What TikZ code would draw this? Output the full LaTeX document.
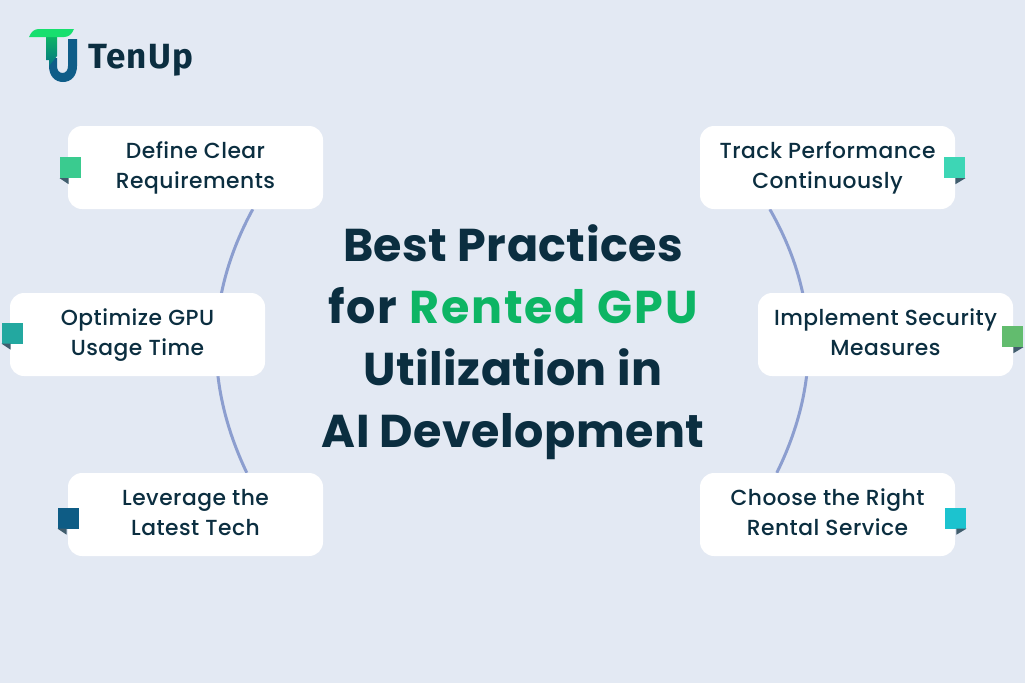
\documentclass[tikz,border=0pt]{standalone}
\usepackage{fontspec}
\setmainfont{Poppins}
\newfontfamily\titlefont[LetterSpace=1,UprightFont=* Bold]{Poppins}
\newfontfamily\titlewide[LetterSpace=4,UprightFont=* Bold]{Poppins}
\newfontfamily\boxfont[LetterSpace=2.2,UprightFont=* Medium]{Poppins}
\newfontfamily\logofont[LetterSpace=3.5,UprightFont=* Bold]{Fira Sans}
\usetikzlibrary{backgrounds}
\definecolor{bgc}{HTML}{E3E9F3}
\definecolor{ink}{HTML}{0B2E40}
\definecolor{arcc}{HTML}{8C9ECF}
\definecolor{titlegreen}{HTML}{0DB564}
\tikzset{
  cardbox/.style={fill=white,rounded corners=14pt,minimum width=255pt,minimum height=83pt,inner sep=0pt,align=center,text=ink,font=\boxfont\fontsize{21.8}{29.5}\selectfont},
  arcline/.style={draw=arcc,line width=3pt},
  flagsq/.style={minimum size=21pt,inner sep=0pt},
  foldc/.style={fill=ink!75!bgc}
}
\begin{document}
\begin{tikzpicture}[x=1pt,y=-1pt]
\begin{scope}[on background layer]
\fill[bgc] (0,0) rectangle (1025,683);
\end{scope}
\useasboundingbox (0,0) rectangle (1025,683);
% cards
\node[cardbox] (define) at (195.5,167.5) {\strut Define Clear\\\strut Requirements};
\node[cardbox] (optimize) at (137.5,334.5) {\strut Optimize GPU\\\strut Usage Time};
\node[cardbox] (leverage) at (195.5,514.5) {\strut Leverage the\\\strut Latest Tech};
\node[cardbox] (track) at (827.5,167.5) {\strut Track Performance\\\strut Continuously};
\node[cardbox] (implement) at (885.5,334.5) {\strut Implement Security\\\strut Measures};
\node[cardbox] (choose) at (827.5,514.5) {\strut Choose the Right\\\strut Rental Service};
% arcs
\begin{scope}[on background layer]
\coordinate (la) at ([xshift=185pt]define.south west);
\coordinate (lb) at ([xshift=179pt]leverage.north west);
\coordinate (ra) at ([xshift=70pt]track.south west);
\coordinate (rb) at ([xshift=77pt]choose.north west);
\draw[arcline] (la) .. controls (205,297) and (205,385) .. (lb);
\draw[arcline] (ra) .. controls (820,297) and (820,385) .. (rb);
\end{scope}
% flags
\foreach \n/\c/\sq/\dx/\dy in {define/3ACB8F/dfl/2.5/0,optimize/23A8A0/ofl/2.5/1.5,leverage/0E5C85/lfl/0.5/-3.5}{
  \definecolor{tmpc}{HTML}{\c}
  \node[flagsq,fill=tmpc] (\sq) at ([xshift=\dx pt,yshift=\dy pt]\n.west) {};
  \fill[foldc] (\sq.south west) -- ([xshift=9pt]\sq.south west) -- ([xshift=9pt,yshift=-6pt]\sq.south west) -- cycle;
}
\foreach \n/\c/\sq/\dx/\dy in {track/3DD6B5/tfl/-0.5/0,implement/62BC6E/ifl/-0.5/-2,choose/1CC3CF/cfl/0.5/-3.5}{
  \definecolor{tmpc}{HTML}{\c}
  \node[flagsq,fill=tmpc] (\sq) at ([xshift=\dx pt,yshift=\dy pt]\n.east) {};
  \fill[foldc] (\sq.south east) -- ([xshift=-10pt]\sq.south east) -- ([xshift=-10pt,yshift=-6pt]\sq.south east) -- cycle;
}
% title
\node[text=ink,align=center,inner sep=0pt,font=\titlefont\fontsize{46}{62}\selectfont] (title) at (513,342) {Best Practices\\{\titlewide for \textcolor{titlegreen}{Rented GPU}}\\Utilization in\\AI Development};
% logo
\definecolor{logob}{HTML}{0F5D88}
\definecolor{logog}{HTML}{17DF6E}
\fill[logob] (49,58) -- (49,66) .. controls (49,76) and (55,82) .. (63,82) .. controls (71,82) and (77,76) .. (77,66) -- (77,39) -- (68,39) -- (68,66) .. controls (68,70) and (66,73) .. (62.5,73) .. controls (59,73) and (57,70) .. (57,66) -- (57,58) -- cycle;
\shade[top color=titlegreen,bottom color=teal!70!logob] (46,36) -- (57,36) -- (57,56) -- (49,66) -- (49,60) -- (46,60) -- cycle;
\fill[logog] (29,37) .. controls (31,32) and (34,29) .. (39,29) -- (74,29) .. controls (72,34) and (69,37) .. (64,37) -- cycle;
\node[text=ink,inner sep=0pt,anchor=west,font=\logofont\fontsize{35}{35}\selectfont] (brand) at (88,60) {TenUp};
\end{tikzpicture}
\end{document}
